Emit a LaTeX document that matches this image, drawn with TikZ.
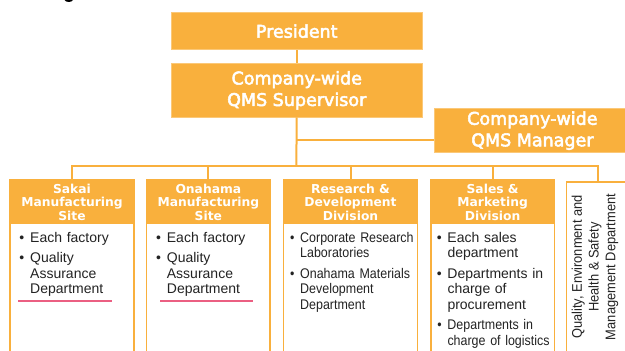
\documentclass[tikz,border=0pt]{standalone}
\usepackage{fontspec}
\setmainfont{Liberation Sans}
\newfontfamily\hfont{DejaVu Sans}
\newfontfamily\topfont[FakeBold=3]{DejaVu Sans}
\newfontfamily\bodyfont{Liberation Sans}
\newfontfamily\condfont[FakeStretch=0.89]{Liberation Sans}
\newfontfamily\qfont[FakeStretch=0.92]{Liberation Sans}
\definecolor{qorange}{RGB}{249,176,61}
\definecolor{qedge}{RGB}{251,200,120}
\definecolor{qpink}{RGB}{235,95,130}
\definecolor{qtext}{RGB}{35,35,35}
\begin{document}
\begin{tikzpicture}[x=1pt,y=-1pt,
  topbox/.style={draw=qedge, line width=0.8pt, fill=qorange, text=white, inner sep=0pt,
    font=\topfont\fontsize{17.5}{21.5}\selectfont, align=center},
  hdr/.style={draw=qorange, line width=1pt, fill=qorange, text=white, inner sep=0pt,
    font=\hfont\bfseries\fontsize{12.3}{13.3}\selectfont, align=center,
    minimum width=124pt, minimum height=43.3pt, anchor=north},
  colbody/.style={draw=qorange, line width=1.5pt, fill=white},
  conn/.style={draw=qorange, line width=2pt},
  item/.style={inner sep=0pt, anchor=base west, text width=125pt, align=left,
    text=qtext, font=\bodyfont\fontsize{14}{15.7}\selectfont},
  citem/.style={item, font=\condfont\fontsize{14}{15.7}\selectfont},
  pinkline/.style={draw=qpink, line width=1.3pt}
]
\useasboundingbox (0,0) rectangle (625,351);
\clip (0,0) rectangle (625,351);
\newcommand{\bul}{\llap{\textbullet\hspace{5.8pt}}}

% cut-off glyph at top
\fill[black] (64.5,0) .. controls (66,2.6) and (71.5,2.6) .. (73,0) -- cycle;

% top boxes
\node[topbox, minimum width=251.3pt, minimum height=37pt, anchor=north west] (pres) at (170.7,12.3) {President};
\node[topbox, minimum width=251.3pt, minimum height=53.4pt, anchor=north west] (sup) at (170.7,63.3) {Company-wide\\QMS Supervisor};
\node[topbox, minimum width=196pt, minimum height=44pt, anchor=north west] (mgr) at (434,108.3) {Company-wide\\QMS Manager};

% column bodies
\draw[colbody] (10,180) rectangle (134,360);
\draw[colbody] (146.7,180) rectangle (270,360);
\draw[colbody] (283.3,180) rectangle (417.7,360);
\draw[colbody] (431,180) rectangle (554.3,360);

% headers
\node[hdr, minimum width=124pt] (sakai) at (72,180) {Sakai\\Manufacturing\\Site};
\node[hdr, minimum width=123.3pt] (ona) at (208.35,180) {Onahama\\Manufacturing\\Site};
\node[hdr, minimum width=134.4pt] (rd) at (350.5,180) {Research \&\\Development\\Division};
\node[hdr, minimum width=123.3pt] (sales) at (492.65,180) {Sales \&\\Marketing\\Division};
\node[draw=qorange, line width=1.5pt, fill=white, inner sep=0pt, minimum width=63.3pt,
  minimum height=180pt, anchor=north] (qehs) at (598.35,181) {};
\node[inner sep=0pt, rotate=90, align=center, text=qtext,
  font=\qfont\fontsize{14}{16.7}\selectfont] (qehst) at (595,267)
  {Quality, Environment and\\Health \& Safety\\Management Department};

% connectors
\coordinate (busy) at (296.3,165.7);
\coordinate (mgrin) at (434,140);
\draw[conn] (pres.south) -- (sup.north);
\draw[conn] (sup.south) -- (busy);
\draw[conn] (sup.south |- mgrin) -- (mgrin);
\draw[conn] (sakai.north) |- (busy) -| (qehs.north);
\draw[conn] (ona.north) -- (ona.north |- busy);
\draw[conn] (rd.north) -- (rd.north |- busy);
\draw[conn] (sales.north) -- (sales.north |- busy);

% items
\node[item] (s1) at (30,242) {\bul Each factory};
\node[item] (s2) at (30,262.5) {\bul Quality\\Assurance\\Department};
\node[item] (o1) at (166.7,242) {\bul Each factory};
\node[item] (o2) at (166.7,262.5) {\bul Quality\\Assurance\\Department};
\node[citem] (r1) at (300,242) {\bul Corporate Research\\Laboratories};
\node[citem] (r2) at (300,278.2) {\bul Onahama Materials\\Development\\Department};
\node[item] (m1) at (447.3,242) {\bul Each sales\\department};
\node[item] (m2) at (447.3,278.2) {\bul Departments in\\charge of\\procurement};
\node[citem] (m3) at (447.3,329.9) {\bul Departments in\\charge of logistics};

\draw[pinkline] (18.3,301) -- (111.7,301);
\draw[pinkline] (160,301) -- (253.3,301);
\end{tikzpicture}
\end{document}
